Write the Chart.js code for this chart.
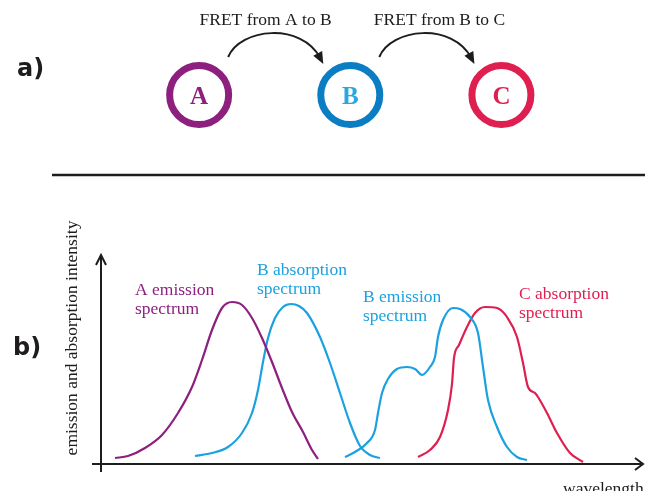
<!DOCTYPE html>
<html>
<head>
<meta charset="utf-8">
<script src="https://cdn.jsdelivr.net/npm/chart.js@4/dist/chart.umd.min.js"></script>
<style>
    html, body { margin: 0; padding: 0; background: #fff; }
    #wrap { position: relative; width: 645px; height: 491px; overflow: hidden; }
    canvas { position: absolute; left: 0; }
    #fretChart { top: 0; }
    #spectraChart { top: 180px; }
</style>
</head>
<body>
<div id="wrap">
    <canvas id="fretChart" width="645" height="180"></canvas>
    <canvas id="spectraChart" width="645" height="311"></canvas>
</div>
<script>
// --- part a: the three dyes and the two transfer steps
const molecules = ['A', 'B', 'C'];
const moleculeX = [1, 2, 3];
const transferLabels = ['FRET from A to B', 'FRET from B to C'];
const transferLabelX = [1.44, 2.59];

// --- part b: spectra (wavelength / intensity, arbitrary units)
const aEmissionWl = [14, 27, 44, 61, 77, 91, 101, 111, 121, 131, 141, 151, 161, 171, 181, 191, 202, 211, 217];
const aEmissionInt = [6, 8, 16, 29, 51, 77, 104, 134, 156, 162, 159, 146, 126, 102, 76, 52, 32, 14, 5];

const bAbsorptionWl = [94, 111, 127, 141, 151, 157, 162, 167, 174, 182, 190, 198, 206, 219, 229, 239, 249, 259, 269, 279];
const bAbsorptionInt = [8, 11, 17, 31, 51, 74, 102, 126, 146, 157, 160, 158, 151, 127, 101, 71, 41, 18, 9, 6];

const bEmissionWl = [244, 254, 266, 274, 277, 281, 287, 296, 306, 314, 321, 329, 334, 337, 342, 352, 359, 369, 377, 382, 387, 396, 406, 416, 426];
const bEmissionInt = [7, 12, 21, 34, 51, 71, 85, 95, 97, 95, 89, 97, 107, 127, 144, 156, 155, 147, 131, 97, 64, 37, 17, 7, 4];

const cAbsorptionWl = [317, 329, 339, 347, 351, 353, 358, 366, 374, 384, 396, 406, 416, 422, 427, 434, 437, 446, 456, 469, 482];
const cAbsorptionInt = [7, 14, 27, 54, 80, 106, 119, 137, 151, 157, 156, 147, 127, 101, 77, 71, 67, 51, 31, 11, 2];

const seriesNames = [
    ['A emission', 'spectrum'],
    ['B absorption', 'spectrum'],
    ['B emission', 'spectrum'],
    ['C absorption', 'spectrum']
];

const PURPLE = '#8d1f7f';
const BLUE = '#1ca1e0';
const DARK_BLUE = '#0b7ec3';
const RED = '#de1f50';
const INK = '#1e1c1d';
const SERIF = '"Liberation Serif", "Times New Roman", serif';

const ringColors = [PURPLE, DARK_BLUE, RED];
const letterColors = [PURPLE, '#29a7e0', RED];

function toPoints(xs, ys) {
    return xs.map((v, i) => ({ x: v, y: ys[i] }));
}

const fretDecor = {
    id: 'fretDecor',
    afterDatasetsDraw: chart => {
        const { ctx } = chart;
        const xs = chart.scales.x;
        const cy = chart.scales.y.getPixelForValue(0);
        ctx.save();

        // letters inside the rings
        ctx.font = 'bold 25px ' + SERIF;
        ctx.textAlign = 'center';
        ctx.textBaseline = 'alphabetic';
        molecules.forEach((m, i) => {
            ctx.fillStyle = letterColors[i];
            ctx.fillText(m, xs.getPixelForValue(moleculeX[i]), cy + 9);
        });

        // curved arrows and their captions
        ctx.strokeStyle = INK;
        ctx.fillStyle = INK;
        ctx.lineWidth = 2;
        for (let i = 0; i < transferLabels.length; i++) {
            const sx = xs.getPixelForValue(moleculeX[i]) + 29;
            const ex = xs.getPixelForValue(moleculeX[i + 1]) - 27;
            const sy = cy - 38;
            const ey = cy - 31;
            const c2x = ex - 22;
            const c2y = sy - 35;
            ctx.beginPath();
            ctx.moveTo(sx, sy);
            ctx.bezierCurveTo(sx + 12, sy - 29, c2x, c2y, ex - 3, ey - 6);
            ctx.stroke();
            const ang = Math.atan2(ey - c2y, ex - c2x);
            ctx.beginPath();
            ctx.moveTo(ex, ey);
            ctx.lineTo(ex - 12 * Math.cos(ang) + 5 * Math.sin(ang), ey - 12 * Math.sin(ang) - 5 * Math.cos(ang));
            ctx.lineTo(ex - 12 * Math.cos(ang) - 5 * Math.sin(ang), ey - 12 * Math.sin(ang) + 5 * Math.cos(ang));
            ctx.closePath();
            ctx.fill();

            ctx.font = '17.5px ' + SERIF;
            ctx.fillStyle = INK;
            ctx.fillText(transferLabels[i], xs.getPixelForValue(transferLabelX[i]), cy - 70);
        }

        // panel tag and separator
        ctx.font = 'bold 24px "DejaVu Sans", sans-serif';
        ctx.textAlign = 'left';
        ctx.fillText('a)', 17, 76);
        ctx.lineWidth = 2.5;
        ctx.beginPath();
        ctx.moveTo(52, 175);
        ctx.lineTo(645, 175);
        ctx.stroke();
        ctx.restore();
    }
};

const fretChart = new Chart(document.getElementById('fretChart'), {
    type: 'scatter',
    plugins: [fretDecor],
    data: {
        datasets: [{
            data: toPoints(moleculeX, moleculeX.map(() => 0)),
            pointRadius: 29.5,
            pointBorderWidth: 7,
            pointBorderColor: ringColors,
            pointBackgroundColor: '#fff',
            showLine: false,
            clip: false
        }]
    },
    options: {
        responsive: false,
        animation: false,
        events: [],
        layout: { autoPadding: false, padding: { left: 48, top: 10, right: 0, bottom: 0 } },
        plugins: { legend: { display: false }, tooltip: { enabled: false } },
        scales: {
            x: { type: 'linear', display: false, min: 0, max: 3.95 },
            y: { type: 'linear', display: false, min: -1, max: 1 }
        }
    }
});

// where each spectrum caption sits (data units) and its colour
const captionAt = [
    { x: 34, y: 169, color: PURPLE },
    { x: 156, y: 189, color: BLUE },
    { x: 262, y: 162, color: BLUE },
    { x: 418, y: 165, color: RED }
];

const spectraDecor = {
    id: 'spectraDecor',
    afterDatasetsDraw: chart => {
        const { ctx, chartArea } = chart;
        const { left, right, top, bottom } = chartArea;
        const xs = chart.scales.x;
        const ys = chart.scales.y;
        ctx.save();

        // axes with open arrow heads
        ctx.strokeStyle = INK;
        ctx.lineWidth = 2;
        ctx.beginPath();
        ctx.moveTo(left, bottom + 8);
        ctx.lineTo(left, top);
        ctx.moveTo(left - 9, bottom);
        ctx.lineTo(right, bottom);
        ctx.stroke();
        ctx.beginPath();
        ctx.moveTo(left - 5, top + 10);
        ctx.lineTo(left, top);
        ctx.lineTo(left + 5, top + 10);
        ctx.moveTo(right - 8, bottom - 6);
        ctx.lineTo(right, bottom);
        ctx.lineTo(right - 8, bottom + 6);
        ctx.stroke();

        // axis titles
        ctx.fillStyle = INK;
        ctx.font = '17.5px ' + SERIF;
        ctx.textBaseline = 'alphabetic';
        ctx.textAlign = 'left';
        ctx.fillText('wavelength', 563, bottom + 30);
        ctx.save();
        ctx.translate(left - 24, top + 83);
        ctx.rotate(-Math.PI / 2);
        ctx.textAlign = 'center';
        ctx.fillText('emission and absorption intensity', 0, 0);
        ctx.restore();

        // captions for each spectrum
        ctx.textAlign = 'left';
        seriesNames.forEach((lines, i) => {
            const c = captionAt[i];
            ctx.fillStyle = c.color;
            lines.forEach((t, j) => {
                ctx.fillText(t, xs.getPixelForValue(c.x), ys.getPixelForValue(c.y) + j * 18.5);
            });
        });

        ctx.fillStyle = INK;
        ctx.font = 'bold 24px "DejaVu Sans", sans-serif';
        ctx.fillText('b)', 13, 175);
        ctx.restore();
    }
};

function spectrum(xs, ys, color) {
    return {
        data: toPoints(xs, ys),
        borderColor: color,
        borderWidth: 2.2,
        pointRadius: 0,
        showLine: true,
        fill: false,
        cubicInterpolationMode: 'monotone'
    };
}

const spectraChart = new Chart(document.getElementById('spectraChart'), {
    type: 'scatter',
    plugins: [spectraDecor],
    data: {
        datasets: [
            spectrum(aEmissionWl, aEmissionInt, PURPLE),
            spectrum(bAbsorptionWl, bAbsorptionInt, BLUE),
            spectrum(bEmissionWl, bEmissionInt, BLUE),
            spectrum(cAbsorptionWl, cAbsorptionInt, RED)
        ]
    },
    options: {
        responsive: false,
        animation: false,
        events: [],
        layout: { autoPadding: false, padding: { left: 101, right: 2, top: 75, bottom: 27 } },
        plugins: { legend: { display: false }, tooltip: { enabled: false } },
        scales: {
            x: { type: 'linear', display: false, min: 0, max: 542 },
            y: { type: 'linear', display: false, min: 0, max: 209 }
        }
    }
});
</script>
</body>
</html>
